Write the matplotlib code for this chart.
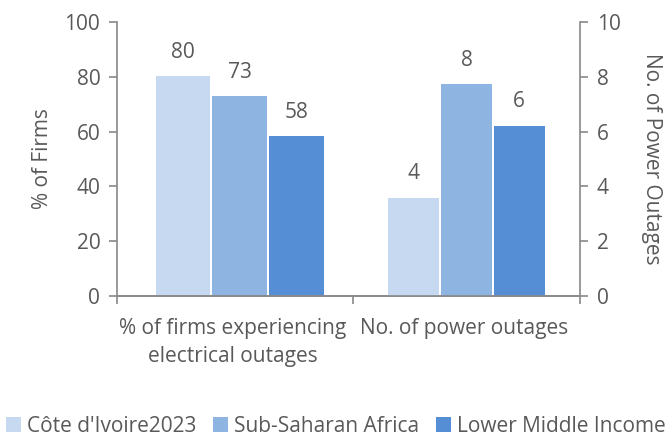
import matplotlib.pyplot as plt
import numpy as np

plt.rcParams['font.family'] = ['Open Sans', 'DejaVu Sans']

categories = ['% of firms experiencing\nelectrical outages', 'No. of power outages']
series = ["Côte d'Ivoire2023", 'Sub-Saharan Africa', 'Lower Middle Income']
pct_firms = [80.2, 72.9, 58.3]
n_outages = [3.57, 7.73, 6.2]
pct_labels = ['80', '73', '58']
outage_labels = ['4', '8', '6']
colors = ['#C6D9F0', '#8EB4E2', '#558ED5']

txt = '#595959'
grey = '#898989'
fs = 15

fig = plt.figure(figsize=(6.72, 4.43), dpi=100)
ax = fig.add_axes([0.174, 0.332, 0.689, 0.618])
ax2 = ax.twinx()

w = 0.235
offs = np.array([-1, 0, 1]) * (w + 0.01)
x1 = 0.03
x2 = 1.01
for i in range(3):
    ax.bar(x1 + offs[i], pct_firms[i], w, color=colors[i], label=series[i])
    ax.text(x1 + offs[i], pct_firms[i] + 5, pct_labels[i], ha='center', va='bottom',
            color=txt, fontsize=fs)
    ax2.bar(x2 + offs[i] * 0.93, n_outages[i], w * 0.93, color=colors[i])
    ax2.text(x2 + offs[i] * 0.93, n_outages[i] + 0.5, outage_labels[i], ha='center',
             va='bottom', color=txt, fontsize=fs)

ax.set_xlim(-0.5, 1.5)
ax.set_ylim(0, 100)
ax2.set_ylim(0, 10)
ax.set_yticks(range(0, 101, 20))
ax2.set_yticks(range(0, 11, 2))

ax.set_xticks([-0.5, 0.52, 1.5])
ax.set_xticklabels([])
ax.tick_params(axis='x', length=6, color=grey, width=1.2)
ax.set_xticks([0.0, 1.0], minor=True)
ax.set_xticklabels(categories, minor=True, linespacing=1.4)
ax.tick_params(axis='x', which='minor', length=0, pad=16, labelsize=fs, labelcolor=txt)

ax.tick_params(axis='y', length=6, color=grey, width=1.2, labelsize=fs, labelcolor=txt, pad=6)
ax2.tick_params(axis='y', length=6, color=grey, width=1.2, labelsize=fs, labelcolor=txt, pad=6)

for a in (ax, ax2):
    a.spines['top'].set_visible(False)
    for s in ('left', 'right', 'bottom'):
        a.spines[s].set_color(grey)
        a.spines[s].set_linewidth(1.2)
ax.spines['right'].set_visible(False)
ax2.spines['left'].set_visible(False)

ax.set_ylabel('% of Firms', color=txt, fontsize=fs, labelpad=8)
ax2.set_ylabel('No. of Power Outages', color=txt, fontsize=fs, rotation=270, labelpad=30)

fig.legend(loc='lower center', bbox_to_anchor=(0.5, -0.028), ncol=3, frameon=False,
           fontsize=fs, labelcolor=txt, handlelength=0.7, handleheight=0.7,
           handletextpad=0.3, columnspacing=0.8)

plt.savefig('out.png', dpi=100)
